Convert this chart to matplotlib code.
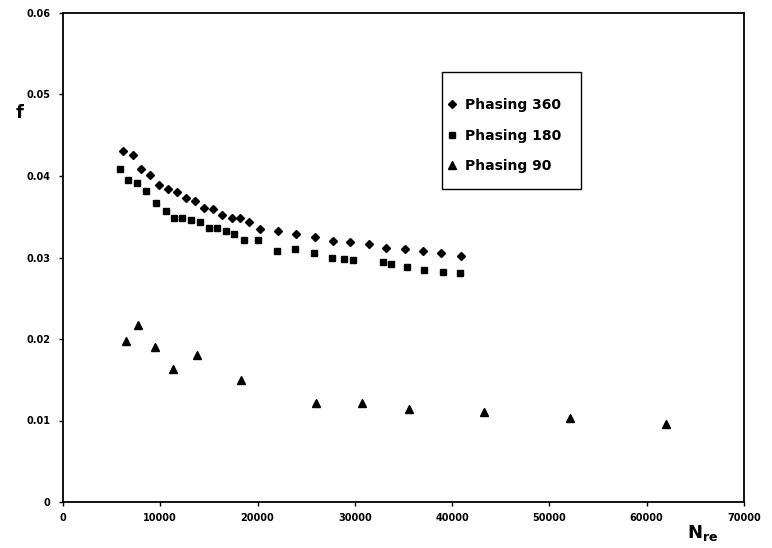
import matplotlib
matplotlib.use("Agg")
import matplotlib.pyplot as plt
from matplotlib.patches import Rectangle
from matplotlib.ticker import FixedLocator, FixedFormatter

plt.rcParams["font.family"] = ["DejaVu Sans"]

# Phasing 360 (diamonds)
re_360 = [6140, 7230, 7990, 8940, 9870, 10760, 11750, 12670, 13570, 14490,
          15450, 16370, 17340, 18220, 19120, 20280, 22130, 23980, 25930,
          27780, 29530, 31420, 33230, 35150, 37030, 38850, 40940]
f_360 = [0.0431, 0.0426, 0.0409, 0.0401, 0.0389, 0.0384, 0.0380, 0.0373,
         0.0369, 0.0361, 0.0360, 0.0352, 0.0348, 0.0348, 0.0343, 0.0335,
         0.0333, 0.0329, 0.0325, 0.0320, 0.0319, 0.0317, 0.0312, 0.0311,
         0.0308, 0.0305, 0.0302]

# Phasing 180 (squares)
re_180 = [5860, 6710, 7580, 8580, 9560, 10550, 11370, 12200, 13190, 14080,
          14990, 15830, 16720, 17550, 18600, 20070, 22030, 23850, 25800,
          27620, 28900, 29840, 32860, 33680, 35330, 37140, 39030, 40810]
f_180 = [0.0409, 0.0395, 0.0392, 0.0382, 0.0367, 0.0357, 0.0349, 0.0348,
         0.0346, 0.0343, 0.0336, 0.0336, 0.0332, 0.0329, 0.0322, 0.0321,
         0.0308, 0.0311, 0.0305, 0.0300, 0.0298, 0.0297, 0.0294, 0.0292,
         0.0288, 0.0285, 0.0282, 0.0281]

# Phasing 90 (triangles)
re_90 = [6500, 7700, 9500, 11300, 13800, 18300, 26000, 30700, 35560,
         43300, 52150, 62000]
f_90 = [0.0197, 0.0217, 0.0190, 0.0163, 0.0180, 0.0150, 0.0122, 0.0122,
        0.0114, 0.0110, 0.0103, 0.0096]

x_ticks = [0, 10000, 20000, 30000, 40000, 50000, 60000, 70000]
y_ticks = [0, 0.01, 0.02, 0.03, 0.04, 0.05, 0.06]
y_labels = ["0", "0.01", "0.02", "0.03", "0.04", "0.05", "0.06"]

W, H = 772, 548
L, R, T, B = 63, 744, 13, 502          # plot box in pixels


def ax_frac(px, py):
    """pixel (from top-left) -> axes fraction"""
    return (px - L) / (R - L), (B - py) / (B - T)


fig = plt.figure(figsize=(W / 100, H / 100), dpi=100)
ax = fig.add_axes([L / W, 1 - B / H, (R - L) / W, (B - T) / H])

ax.plot(re_360, f_360, "D", color="black", markersize=4.4,
        linestyle="none", label="Phasing 360")
ax.plot(re_180, f_180, "s", color="black", markersize=4.3,
        linestyle="none", label="Phasing 180")
ax.plot(re_90, f_90, "^", color="black", markersize=5.5,
        linestyle="none", label="Phasing 90")

ax.set_xlim(0, 70000)
ax.set_ylim(0, 0.06)
ax.xaxis.set_major_locator(FixedLocator(x_ticks))
ax.xaxis.set_major_formatter(FixedFormatter([str(v) for v in x_ticks]))
ax.yaxis.set_major_locator(FixedLocator(y_ticks))
ax.yaxis.set_major_formatter(FixedFormatter(y_labels))
ax.tick_params(direction="out", length=3, width=1, labelsize=7)
ax.tick_params(axis="x", pad=5)
ax.tick_params(axis="y", pad=6)
for lbl in ax.get_xticklabels() + ax.get_yticklabels():
    lbl.set_fontweight("bold")
for sp in ax.spines.values():
    sp.set_linewidth(1.3)

# legend contents, with the box drawn separately
lx, ly = ax_frac(446, 98)
ax.legend(loc="upper left", bbox_to_anchor=(lx, ly), frameon=False,
          prop={"weight": "bold", "size": 10},
          labelspacing=1.2, borderpad=0, handlelength=0.8,
          handletextpad=0.6, borderaxespad=0)
bx0, by0 = ax_frac(442, 189)
bx1, by1 = ax_frac(581, 72)
ax.add_patch(Rectangle((bx0, by0), bx1 - bx0, by1 - by0,
                       transform=ax.transAxes, fill=False,
                       edgecolor="black", linewidth=1.0))

fig.text(20 / W, 1 - 113 / H, "f", fontsize=13, fontweight="bold",
         ha="center", va="center")
fig.text(703 / W, 1 - 533 / H, r"$\mathbf{N}_{\mathbf{re}}$",
         fontsize=13, ha="center", va="center")

fig.savefig("out.png", dpi=100)
